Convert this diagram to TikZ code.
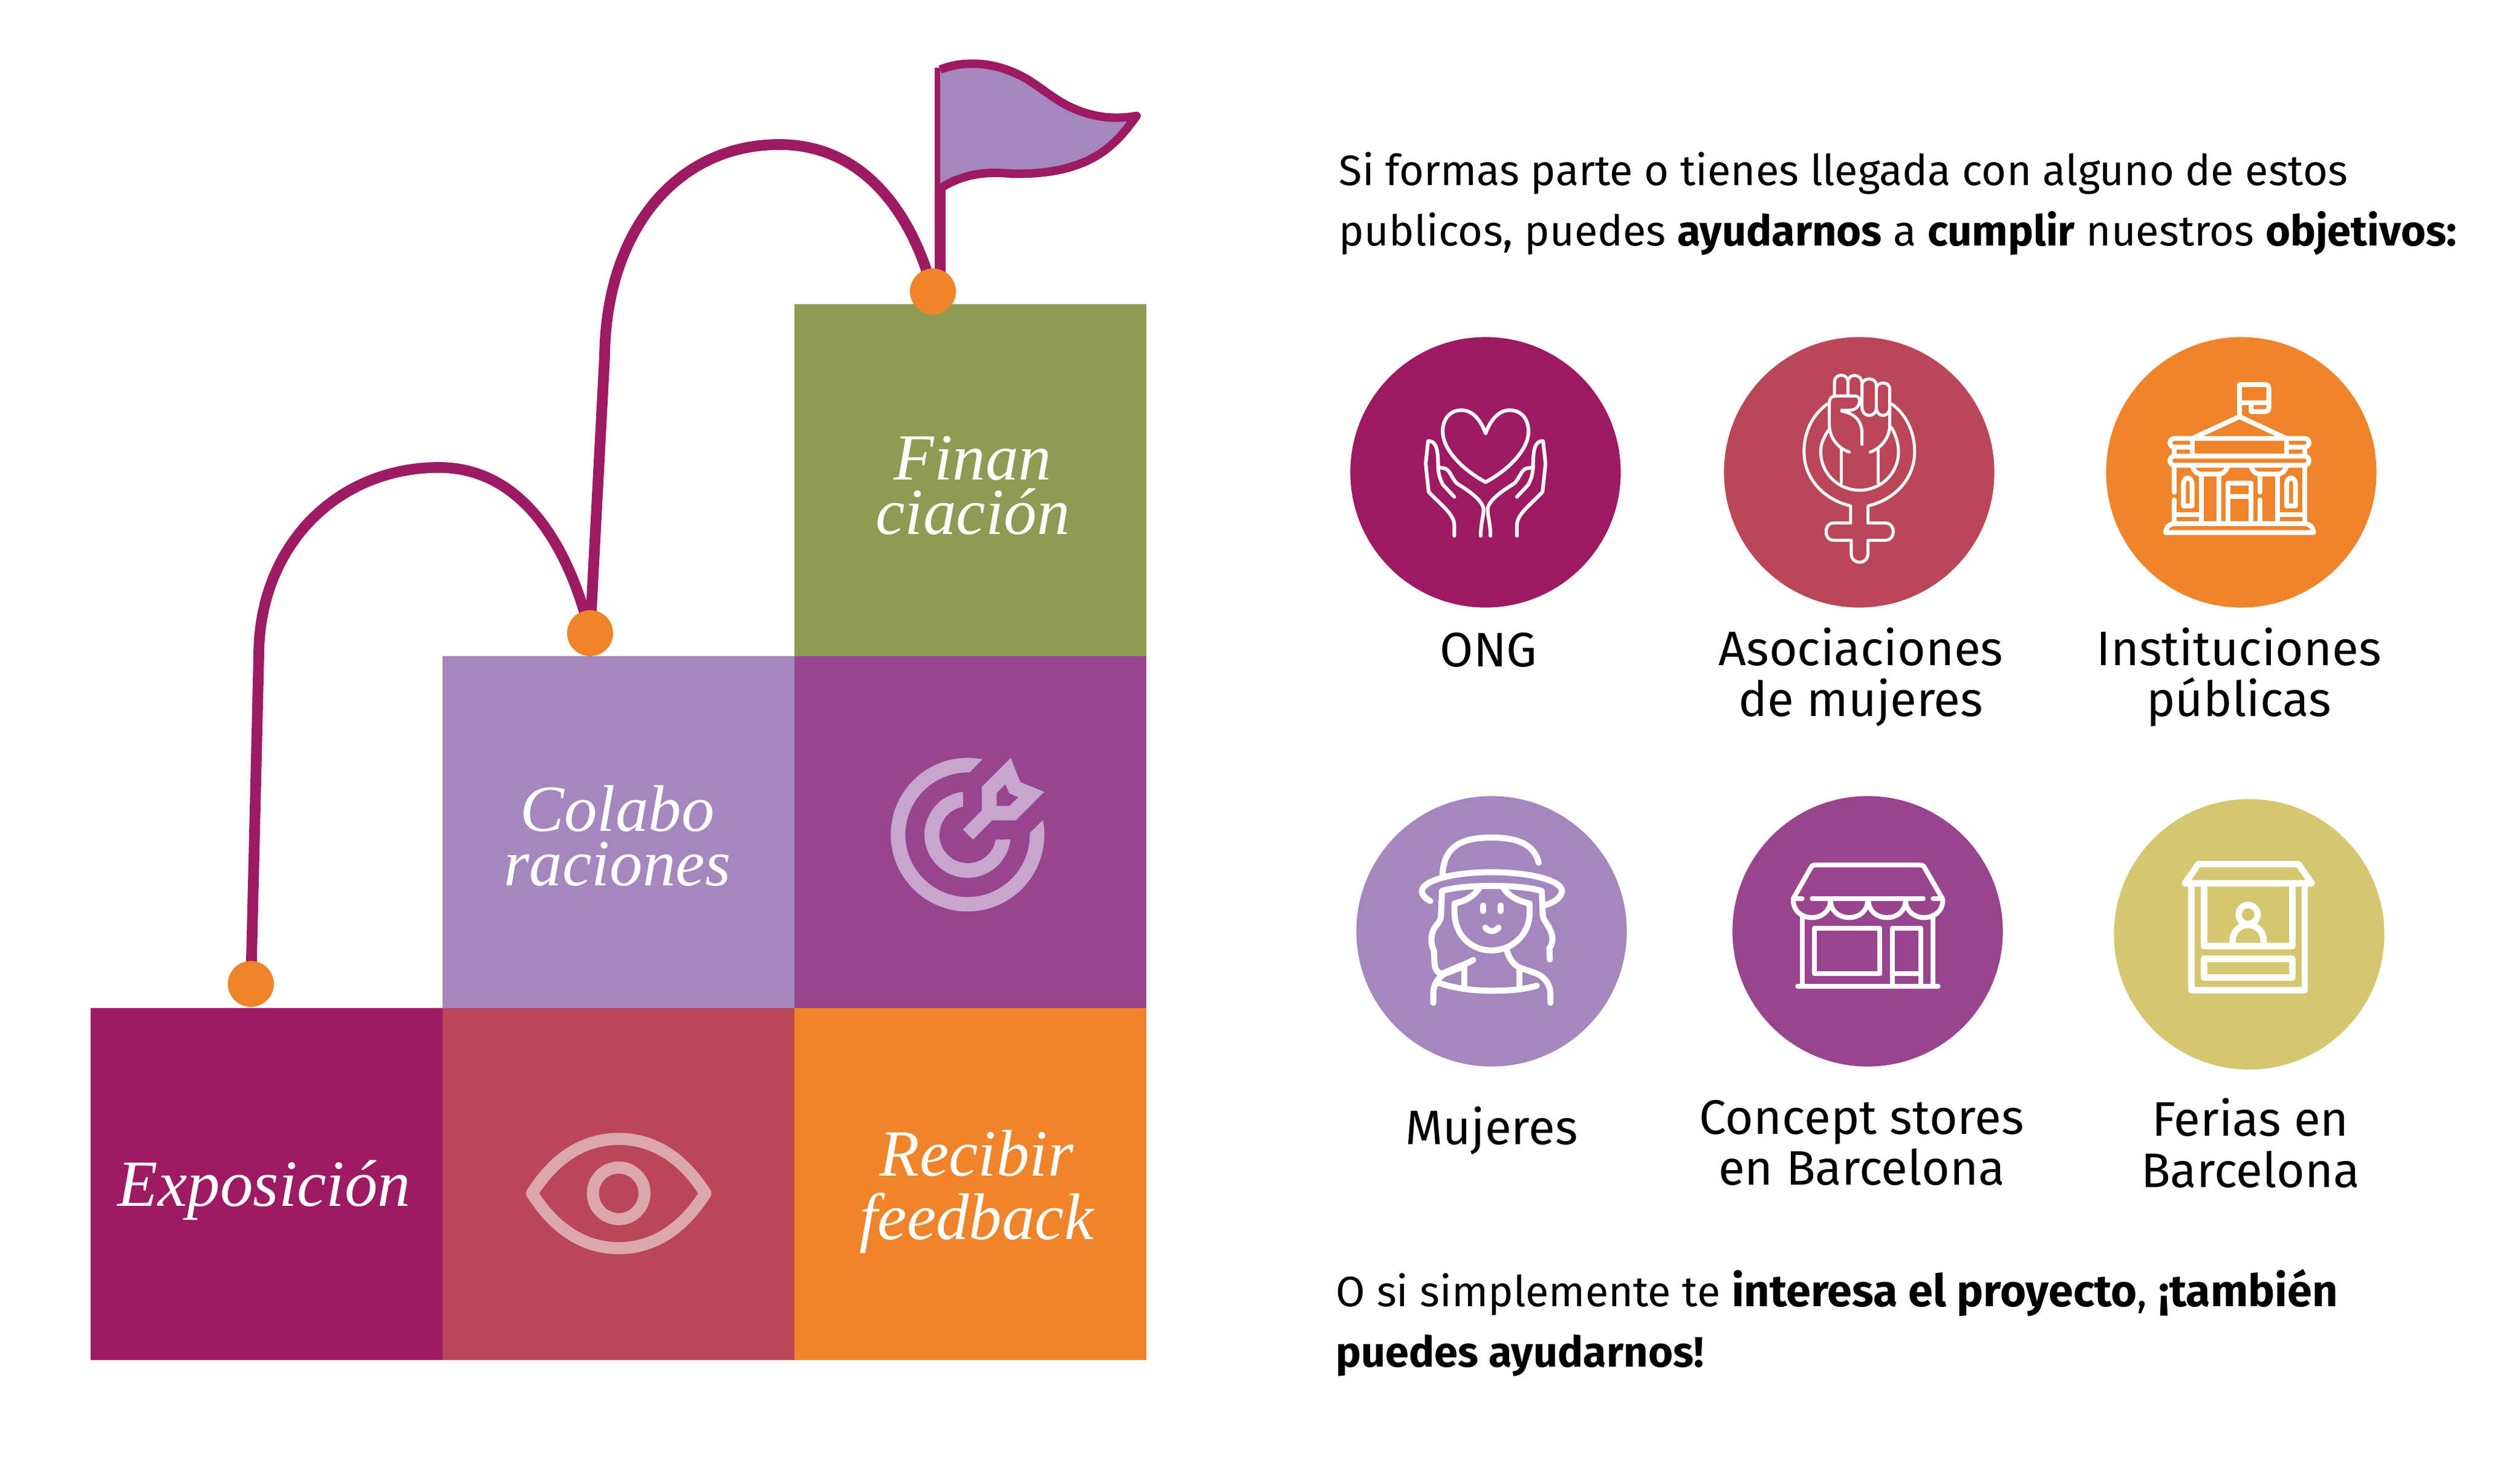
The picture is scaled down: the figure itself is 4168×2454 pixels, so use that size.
\documentclass[tikz,border=0pt]{standalone}
\usepackage{fontspec}
\setmainfont{Fira Sans}
\newfontfamily\tilefont{Liberation Serif}
\usetikzlibrary{positioning,backgrounds}
\definecolor{wine}{HTML}{9E1A63}
\definecolor{rose}{HTML}{BB4657}
\definecolor{amber}{HTML}{EF842A}
\definecolor{lilac}{HTML}{A488BD}
\definecolor{plum}{HTML}{98458E}
\definecolor{olive}{HTML}{8F9A53}
\definecolor{straw}{HTML}{D4C76F}
\definecolor{paleplum}{HTML}{C6A6CC}
\definecolor{palerose}{HTML}{DBA7A8}
\newcommand{\widebold}[1]{{\bfseries\fontsize{21}{28.45}\selectfont #1}}

\begin{document}
\begin{tikzpicture}[%
    x=0.01cm,
    y=-0.01cm,
    tile/.style={
      rectangle,
      draw=none,
      inner sep=0pt,
      outer sep=0pt,
      minimum size=5.815cm
    },
    tilelabel/.style={
      align=center,
      text=white,
      inner sep=0pt,
      font=\tilefont\itshape\fontsize{31}{25.5}\selectfont
    },
    dot/.style={
      circle,
      fill=amber,
      inner sep=0pt,
      minimum size=0.76cm
    },
    line/.style={
      draw=wine,
      line width=0.178cm
    },
    disc/.style={
      circle,
      inner sep=0pt,
      minimum size=4.47cm
    },
    icon/.style={
      draw=white,
      line cap=round,
      line join=round
    },
    caption/.style={
      align=center,
      inner sep=0pt,
      font=\fontsize{22.8}{24}\selectfont
    },
    para/.style={
      align=left,
      anchor=west,
      inner sep=0pt,
      font=\fontsize{20}{28.45}\selectfont
    }
  ]
    \useasboundingbox (0,0) rectangle (4168,2454);

    \node[tile,fill=wine] (expo) at (441,1958) {};
    \node[tile,fill=rose,right=0pt of expo] (view) {};
    \node[tile,fill=amber,right=0pt of view] (feed) {};
    \node[tile,fill=lilac,above=0pt of view] (colab) {};
    \node[tile,fill=plum,right=0pt of colab] (goal) {};
    \node[tile,fill=olive,above=0pt of goal] (fund) {};

    \node[tilelabel] (expotext) at (437,1968) {Exposici\'on};
    \node[tilelabel] (colabtext) at (1021,1382) {Colabo\\raciones};
    \node[tilelabel] (fundtext) at (1609,803) {Finan\\ciaci\'on};
    \node[tilelabel,font=\tilefont\itshape\fontsize{31}{30}\selectfont] (feedtext) at (1615,1971) {Recibir\\feedback};

    \node[dot] (start) at (415,1627) {};
    \node[dot] (mid) at (976,1047) {};
    \node[dot] (top) at (1543,482) {};
    \coordinate (bendA) at (428,1085);
    \coordinate (bendB) at (1000,590);
    \coordinate (pole) at (1555,112);

    \begin{pgfonlayer}{background}
      \draw[line] (start.center) -- (bendA)
        .. controls (428,900) and (560,773) .. (726,773)
        .. controls (850,773) and (935,880) .. (mid.center);
      \draw[line] (mid.center) -- (bendB)
        .. controls (1002,380) and (1120,239) .. (1289,239)
        .. controls (1420,239) and (1505,340) .. (top.center);
      \draw[line] (pole) -- (pole |- top);
    \end{pgfonlayer}

    \begin{scope}[shift={(1500,80)},scale=0.3333]
      \draw[draw=wine,fill=lilac,line width=0.14cm,line join=round] (165,105)
        .. controls (280,60) and (440,60) .. (600,155)
        .. controls (680,205) and (740,260) .. (820,295)
        .. controls (920,340) and (1020,355) .. (1140,335)
        .. controls (1040,470) and (920,630) .. (520,622)
        .. controls (400,610) and (280,620) .. (165,695);
    \end{scope}

    \begin{scope}[shift={(820,1820)},scale=0.3333]
      \draw[draw=palerose,line width=0.2cm,line join=round] (180,460)
        .. controls (300,270) and (450,190) .. (610,190)
        .. controls (770,190) and (920,270) .. (1040,460)
        .. controls (920,650) and (770,732) .. (610,732)
        .. controls (450,732) and (300,650) .. (180,460) -- cycle;
      \draw[draw=palerose,line width=0.2cm] (610,460) circle[radius=128];
    \end{scope}

    \begin{scope}[shift={(1400,1240)},scale=0.3333,shift={(601,421)}]
      \fill[paleplum] (74,-374) arc[start angle=-78.8,end angle=-371,radius=381]
        -- (309,-9) arc[start angle=-361.7,end angle=-88.3,radius=309] -- cycle;
      \fill[paleplum] (-23,-213) arc[start angle=-96.2,end angle=-353.6,radius=214]
        -- (140,24) arc[start angle=-350.3,end angle=-99.4,radius=141] -- cycle;
    \end{scope}
    \begin{scope}[shift={(1400,1240)},scale=0.3333]
      \fill[paleplum,even odd rule] (578,395) -- (672,300) -- (672,183) -- (815,40)
        -- (863,160) -- (982,208) -- (840,350) -- (722,350) -- (628,445) -- cycle
        (745,278) -- (745,215) -- (788,170) -- (808,215) -- (853,235) -- (808,278) -- cycle;
    \end{scope}

    \node[para] (intro) at (2214,337) {Si formas parte o tienes llegada con alguno de estos\\publicos, puedes \textbf{ayudarnos} a \textbf{cumplir} nuestros \textbf{objetivos:}};

    \node[disc,fill=wine] (ong) at (2457,781) {};
    \node[disc,fill=rose] (women) at (3075,781) {};
    \node[disc,fill=amber] (inst) at (3707,781) {};
    \node[disc,fill=lilac] (people) at (2467,1540) {};
    \node[disc,fill=plum] (store) at (3089,1540) {};
    \node[disc,fill=straw] (fair) at (3720,1545) {};

    \node[caption] (ongtext) at (2462,1075) {ONG};
    \node[caption] (womentext) at (3078,1120) {Asociaciones\\de mujeres};
    \node[caption] (insttext) at (3703,1120) {Instituciones\\p\'ublicas};
    \node[caption] (peopletext) at (2467,1870) {Mujeres};
    \node[caption] (storetext) at (3079,1890) {Concept stores\\en Barcelona};
    \node[caption] (fairtext) at (3722,1890) {Ferias en\\Barcelona};

    \node[para] (outro) at (2209,2187) {O si simplemente te \widebold{interesa el proyecto}, \widebold{¡tambi\'en}\\\textbf{puedes ayudarnos!}};

    \begin{scope}[shift={(2200,540)},xscale=0.4464,yscale=0.3333,icon,line width=0.06cm]
      \draw (576,530) .. controls (560,470) and (530,415) .. (487,415)
        .. controls (440,415) and (417,465) .. (417,520)
        .. controls (417,610) and (490,710) .. (576,772)
        .. controls (662,710) and (735,610) .. (735,520)
        .. controls (735,465) and (712,415) .. (665,415)
        .. controls (622,415) and (592,470) .. (576,530);
      \foreach \flip in {1,-1} {
        \begin{scope}[shift={(576,0)},xscale=\flip]
          \draw (-116,1038) -- (-116,985)
            .. controls (-116,930) and (-170,880) .. (-211,820)
            -- (-222,680) -- (-213,568)
            .. controls (-181,565) and (-176,620) .. (-176,690)
            .. controls (-176,730) and (-168,760) .. (-158,785) -- (-116,845);
          \draw (-176,700) .. controls (-146,700) and (-139,710) .. (-131,730)
            .. controls (-121,750) and (-116,770) .. (-101,783)
            .. controls (-56,820) and (-16,860) .. (-8,900)
            .. controls (-6,940) and (-18,970) .. (-18,1038);
        \end{scope}
      }
    \end{scope}

    \begin{scope}[shift={(2840,540)},xscale=0.4464,yscale=0.3333,icon,line width=0.05cm]
      \draw (408,385) .. controls (350,440) and (322,530) .. (322,620)
        .. controls (322,760) and (400,860) .. (495,890) -- (495,975) -- (430,975)
        .. controls (395,975) and (395,1060) .. (430,1060) -- (497,1060) -- (497,1125)
        .. controls (497,1185) and (559,1185) .. (559,1125) -- (559,1060) -- (625,1060)
        .. controls (662,1060) and (662,975) .. (625,975) -- (559,975) -- (559,890)
        .. controls (654,860) and (732,760) .. (732,620)
        .. controls (732,530) and (704,440) .. (648,385);
      \draw (412,515) .. controls (390,560) and (384,590) .. (384,620)
        .. controls (384,730) and (450,812) .. (528,812)
        .. controls (606,812) and (672,730) .. (672,620)
        .. controls (672,590) and (665,540) .. (645,500);
      \draw (460,610) -- (460,775) (596,610) -- (596,775);
      \draw (435,340) -- (435,275) .. controls (435,230) and (485,230) .. (485,275) -- (485,340);
      \draw (485,275) .. controls (485,230) and (537,230) .. (537,285) -- (537,345);
      \draw (537,285) -- (537,400) .. controls (537,455) and (590,455) .. (590,400)
        -- (590,290) .. controls (590,250) and (537,250) .. (537,290);
      \draw (590,310) .. controls (590,270) and (640,270) .. (640,310) -- (640,400)
        .. controls (640,455) and (590,455) .. (590,400);
      \draw (490,623) .. controls (440,600) and (416,540) .. (416,490) -- (416,375)
        .. controls (416,355) and (425,345) .. (440,345) -- (515,345)
        .. controls (535,345) and (535,415) .. (490,415) -- (462,415);
      \draw (462,420) .. controls (510,430) and (537,470) .. (537,530) -- (537,585);
      \draw (640,400) -- (640,490) .. controls (640,540) and (615,600) .. (567,623);
    \end{scope}

    \begin{scope}[shift={(3480,540)},scale=0.3333,icon,line width=0.08cm]
      \draw (672,445) -- (672,288) -- (800,288) .. controls (812,288) and (818,296) .. (818,310)
        -- (818,400) .. controls (818,414) and (812,422) .. (800,422) -- (730,422) -- (730,378);
      \draw (672,378) -- (818,378);
      \draw (438,555) -- (672,447) -- (905,555);
      \draw (437,555) -- (905,555) (437,643) -- (905,643);
      \draw (437,555) -- (349,555) .. controls (320,555) and (320,598) .. (349,598) -- (437,598);
      \draw (906,555) -- (995,555) .. controls (1024,555) and (1024,598) .. (995,598) -- (906,598);
      \draw (349,598) -- (349,643) (995,598) -- (995,643) (437,555) -- (437,643) (906,555) -- (906,643);
      \draw (349,643) -- (995,643) .. controls (1024,643) and (1024,688) .. (995,688)
        -- (349,688) .. controls (320,688) and (320,643) .. (349,643) -- cycle;
      \draw (349,688) -- (349,822) (349,860) -- (349,978) (995,688) -- (995,978);
      \draw (482,740) -- (482,978) (570,740) -- (570,978);
      \draw (440,695) .. controls (446,718) and (462,732) .. (482,732) -- (570,732)
        .. controls (590,732) and (606,718) .. (612,695);
      \draw (774,740) -- (774,822) (774,860) -- (774,978) (862,740) -- (862,978);
      \draw (730,695) .. controls (736,718) and (752,732) .. (774,732) -- (862,732)
        .. controls (882,732) and (898,718) .. (905,695);
      \draw (615,978) -- (615,777) -- (729,777) -- (729,978) (615,843) -- (729,843);
      \draw (394,890) -- (394,785) .. controls (394,740) and (437,740) .. (437,785) -- (437,890) -- cycle;
      \draw (906,890) -- (906,785) .. controls (906,740) and (950,740) .. (950,785) -- (950,890) -- cycle;
      \draw (349,934) -- (482,934) (862,934) -- (995,934);
      \draw (305,1022) .. controls (308,995) and (325,978) .. (349,978) -- (995,978)
        .. controls (1020,978) and (1037,995) .. (1040,1022) -- cycle;
    \end{scope}

    \begin{scope}[shift={(2240,1310)},scale=0.3333,icon,line width=0.1cm]
      \draw (437,410) .. controls (445,300) and (490,225) .. (680,225)
        .. controls (830,225) and (895,270) .. (915,350);
      \draw (377,540) .. controls (350,525) and (335,510) .. (335,490)
        .. controls (340,440) and (480,397) .. (680,397)
        .. controls (880,397) and (1030,440) .. (1030,490)
        .. controls (1030,520) and (990,550) .. (945,560);
      \draw (398,850) -- (395,785) .. controls (375,750) and (380,700) .. (400,670)
        .. controls (410,655) and (430,640) .. (430,610) -- (435,490)
        .. controls (500,470) and (600,465) .. (680,465)
        .. controls (770,465) and (860,470) .. (930,490) -- (935,610)
        .. controls (940,640) and (960,655) .. (970,680)
        .. controls (990,720) and (985,750) .. (968,775) -- (970,830);
      \draw (398,850) .. controls (400,880) and (415,900) .. (435,900) -- (530,860)
        .. controls (560,850) and (575,840) .. (590,832);
      \draw (620,475) .. controls (590,520) and (550,540) .. (497,552) -- (497,600)
        .. controls (500,710) and (580,785) .. (680,785)
        .. controls (780,785) and (868,710) .. (870,600) -- (870,552)
        .. controls (815,540) and (770,520) .. (740,475);
      \draw (640,562) -- (640,590) (726,562) -- (726,590);
      \draw (650,672) .. controls (670,695) and (695,695) .. (716,672);
      \draw (757,785) .. controls (770,830) and (790,855) .. (820,870) -- (905,900)
        .. controls (950,920) and (973,960) .. (973,1000) -- (973,1045);
      \draw (392,1045) -- (392,990) .. controls (395,950) and (420,915) .. (450,900) -- (530,870);
      \draw (415,945) .. controls (500,975) and (600,985) .. (680,985)
        .. controls (760,985) and (840,980) .. (905,960);
      \draw (546,870) -- (546,970) (820,870) -- (820,970);
    \end{scope}

    \begin{scope}[shift={(2860,1310)},scale=0.3333,icon,line width=0.08cm]
      \draw (318,528) -- (405,375) .. controls (410,365) and (415,361) .. (425,361)
        -- (950,361) .. controls (960,361) and (965,365) .. (970,375) -- (1058,528);
      \draw (318,528) -- (362,528) (412,528) -- (963,528) (1012,528) -- (1058,528);
      \foreach \x in {410,595,783,968} {
        \draw (\x-92,535) .. controls (\x-92,590) and (\x-50,622) .. (\x,622)
          .. controls (\x+50,622) and (\x+92,590) .. (\x+92,535);
      }
      \draw (363,610) -- (363,962) (1012,610) -- (1012,962) (340,962) -- (1037,962);
      \draw (424,674) rectangle (748,901);
      \draw (809,962) -- (809,674) -- (951,674) -- (951,962) (809,901) -- (951,901);
    \end{scope}

    \begin{scope}[shift={(3500,1310)},scale=0.3333,icon,line width=0.107cm]
      \draw (342,452) -- (408,357) -- (905,357) -- (970,452) -- cycle;
      \draw (374,452) -- (374,982) -- (936,982) -- (936,452);
      \draw (437,452) -- (437,763) -- (874,763) -- (874,452);
      \draw (437,826) rectangle (874,920);
      \draw (655,607) circle[radius=47];
      \draw (578,763) -- (578,735) arc[start angle=180,end angle=360,radius=77] -- (733,763);
    \end{scope}
  \end{tikzpicture}
\end{document}
